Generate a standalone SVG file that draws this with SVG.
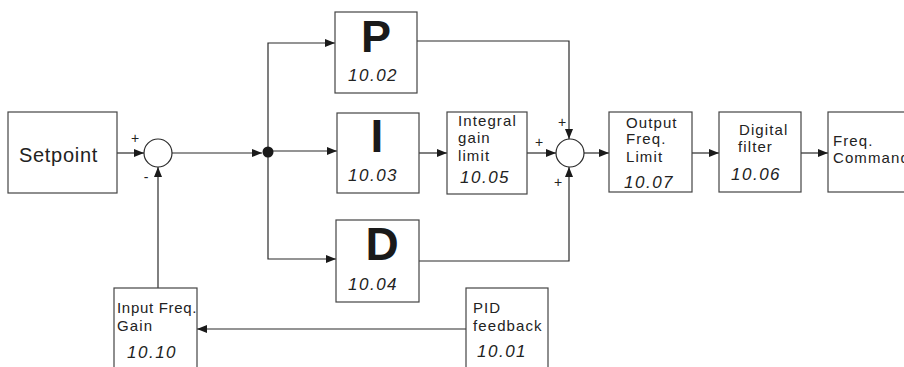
<svg xmlns="http://www.w3.org/2000/svg" width="904" height="367" viewBox="0 0 904 367">
<defs>
<marker id="ah" viewBox="0 0 10 8" refX="10" refY="4" markerWidth="10" markerHeight="8" markerUnits="userSpaceOnUse" orient="auto">
<path d="M0,0 L10,4 L0,8 Z" fill="#1a1a1a"/>
</marker>
<style>
.box{fill:#fff;stroke:#444;stroke-width:1.2}
.ln{fill:none;stroke:#2a2a2a;stroke-width:1.2}
.arr{fill:none;stroke:#2a2a2a;stroke-width:1.2;marker-end:url(#ah)}
.t{font-family:"Liberation Sans",Arial,sans-serif;font-size:15px;letter-spacing:1.1px;fill:#222}
.n{font-family:"Liberation Sans",Arial,sans-serif;font-size:17px;font-style:italic;letter-spacing:1.5px;fill:#222}
.big{font-family:"Liberation Sans",Arial,sans-serif;font-weight:bold;font-size:46px;fill:#1a1a1a;text-anchor:middle}
.s{font-family:"Liberation Sans",Arial,sans-serif;font-size:14px;fill:#222;text-anchor:middle}
</style>
</defs>
<rect width="904" height="367" fill="#fff"/>
<g id="connectors">
<line class="arr" x1="117" y1="153" x2="144" y2="153"/>
<line class="arr" x1="158" y1="288" x2="158" y2="167"/>
<line class="arr" x1="172" y1="153" x2="262" y2="153"/>
<polyline class="arr" points="268,152 268,43 335,43"/>
<line class="arr" x1="273" y1="151" x2="337" y2="151"/>
<polyline class="arr" points="268,152 268,259 336,259"/>
<line class="arr" x1="419" y1="153" x2="447" y2="153"/>
<line class="arr" x1="527" y1="153" x2="556" y2="153"/>
<polyline class="arr" points="417,41 569,41 569,139"/>
<polyline class="arr" points="419,261 569,261 569,167"/>
<line class="arr" x1="584" y1="153" x2="609" y2="153"/>
<line class="arr" x1="692" y1="153" x2="719" y2="153"/>
<line class="arr" x1="801" y1="153" x2="828" y2="153"/>
<line class="arr" x1="466" y1="329" x2="197" y2="329"/>
<circle cx="268" cy="152" r="5.5" fill="#1a1a1a"/>
</g>
<g id="sum1">
<circle cx="158" cy="153" r="14" fill="#fff" stroke="#2a2a2a" stroke-width="1.2"/>
<text class="s" x="135" y="143">+</text>
<text class="s" x="146" y="182">-</text>
</g>
<g id="sum2">
<circle cx="570" cy="153" r="14" fill="#fff" stroke="#2a2a2a" stroke-width="1.2"/>
<text class="s" x="539" y="147">+</text>
<text class="s" x="562" y="127">+</text>
<text class="s" x="558" y="187">+</text>
</g>
<g id="setpoint">
<rect class="box" x="8" y="112" width="109" height="81"/>
<text class="t" x="19" y="162" style="font-size:20px;letter-spacing:0.7px">Setpoint</text>
</g>
<g id="p">
<rect class="box" x="335" y="12" width="82" height="81"/>
<text class="big" x="376" y="52" style="font-size:45px">P</text>
<text class="n" x="348" y="81">10.02</text>
</g>
<g id="i">
<rect class="box" x="337" y="113" width="82" height="80"/>
<text class="big" x="377" y="152">I</text>
<text class="n" x="348" y="181">10.03</text>
</g>
<g id="d">
<rect class="box" x="336" y="220" width="83" height="82"/>
<text class="big" x="382" y="260">D</text>
<text class="n" x="348" y="290">10.04</text>
</g>
<g id="integral">
<rect class="box" x="447" y="112" width="80" height="82"/>
<text class="t" x="458" y="126">Integral</text>
<text class="t" x="458" y="143">gain</text>
<text class="t" x="458" y="161">limit</text>
<text class="n" x="460" y="183">10.05</text>
</g>
<g id="output">
<rect class="box" x="609" y="112" width="83" height="80"/>
<text class="t" x="626" y="128">Output</text>
<text class="t" x="626" y="144">Freq.</text>
<text class="t" x="626" y="162">Limit</text>
<text class="n" x="624" y="188">10.07</text>
</g>
<g id="digital">
<rect class="box" x="719" y="112" width="82" height="80"/>
<text class="t" x="739" y="135">Digital</text>
<text class="t" x="738" y="152">filter</text>
<text class="n" x="731" y="180">10.06</text>
</g>
<g id="freqcmd">
<rect class="box" x="828" y="112" width="100" height="80"/>
<text class="t" x="833" y="146">Freq.</text>
<text class="t" x="833" y="163">Command</text>
</g>
<g id="input">
<rect class="box" x="114" y="288" width="83" height="100"/>
<text class="t" x="117" y="313" style="letter-spacing:0.7px">Input Freq.</text>
<text class="t" x="117" y="331">Gain</text>
<text class="n" x="127" y="358">10.10</text>
</g>
<g id="pid">
<rect class="box" x="466" y="288" width="82" height="100"/>
<text class="t" x="473" y="313">PID</text>
<text class="t" x="473" y="331">feedback</text>
<text class="n" x="477" y="357">10.01</text>
</g>
</svg>
